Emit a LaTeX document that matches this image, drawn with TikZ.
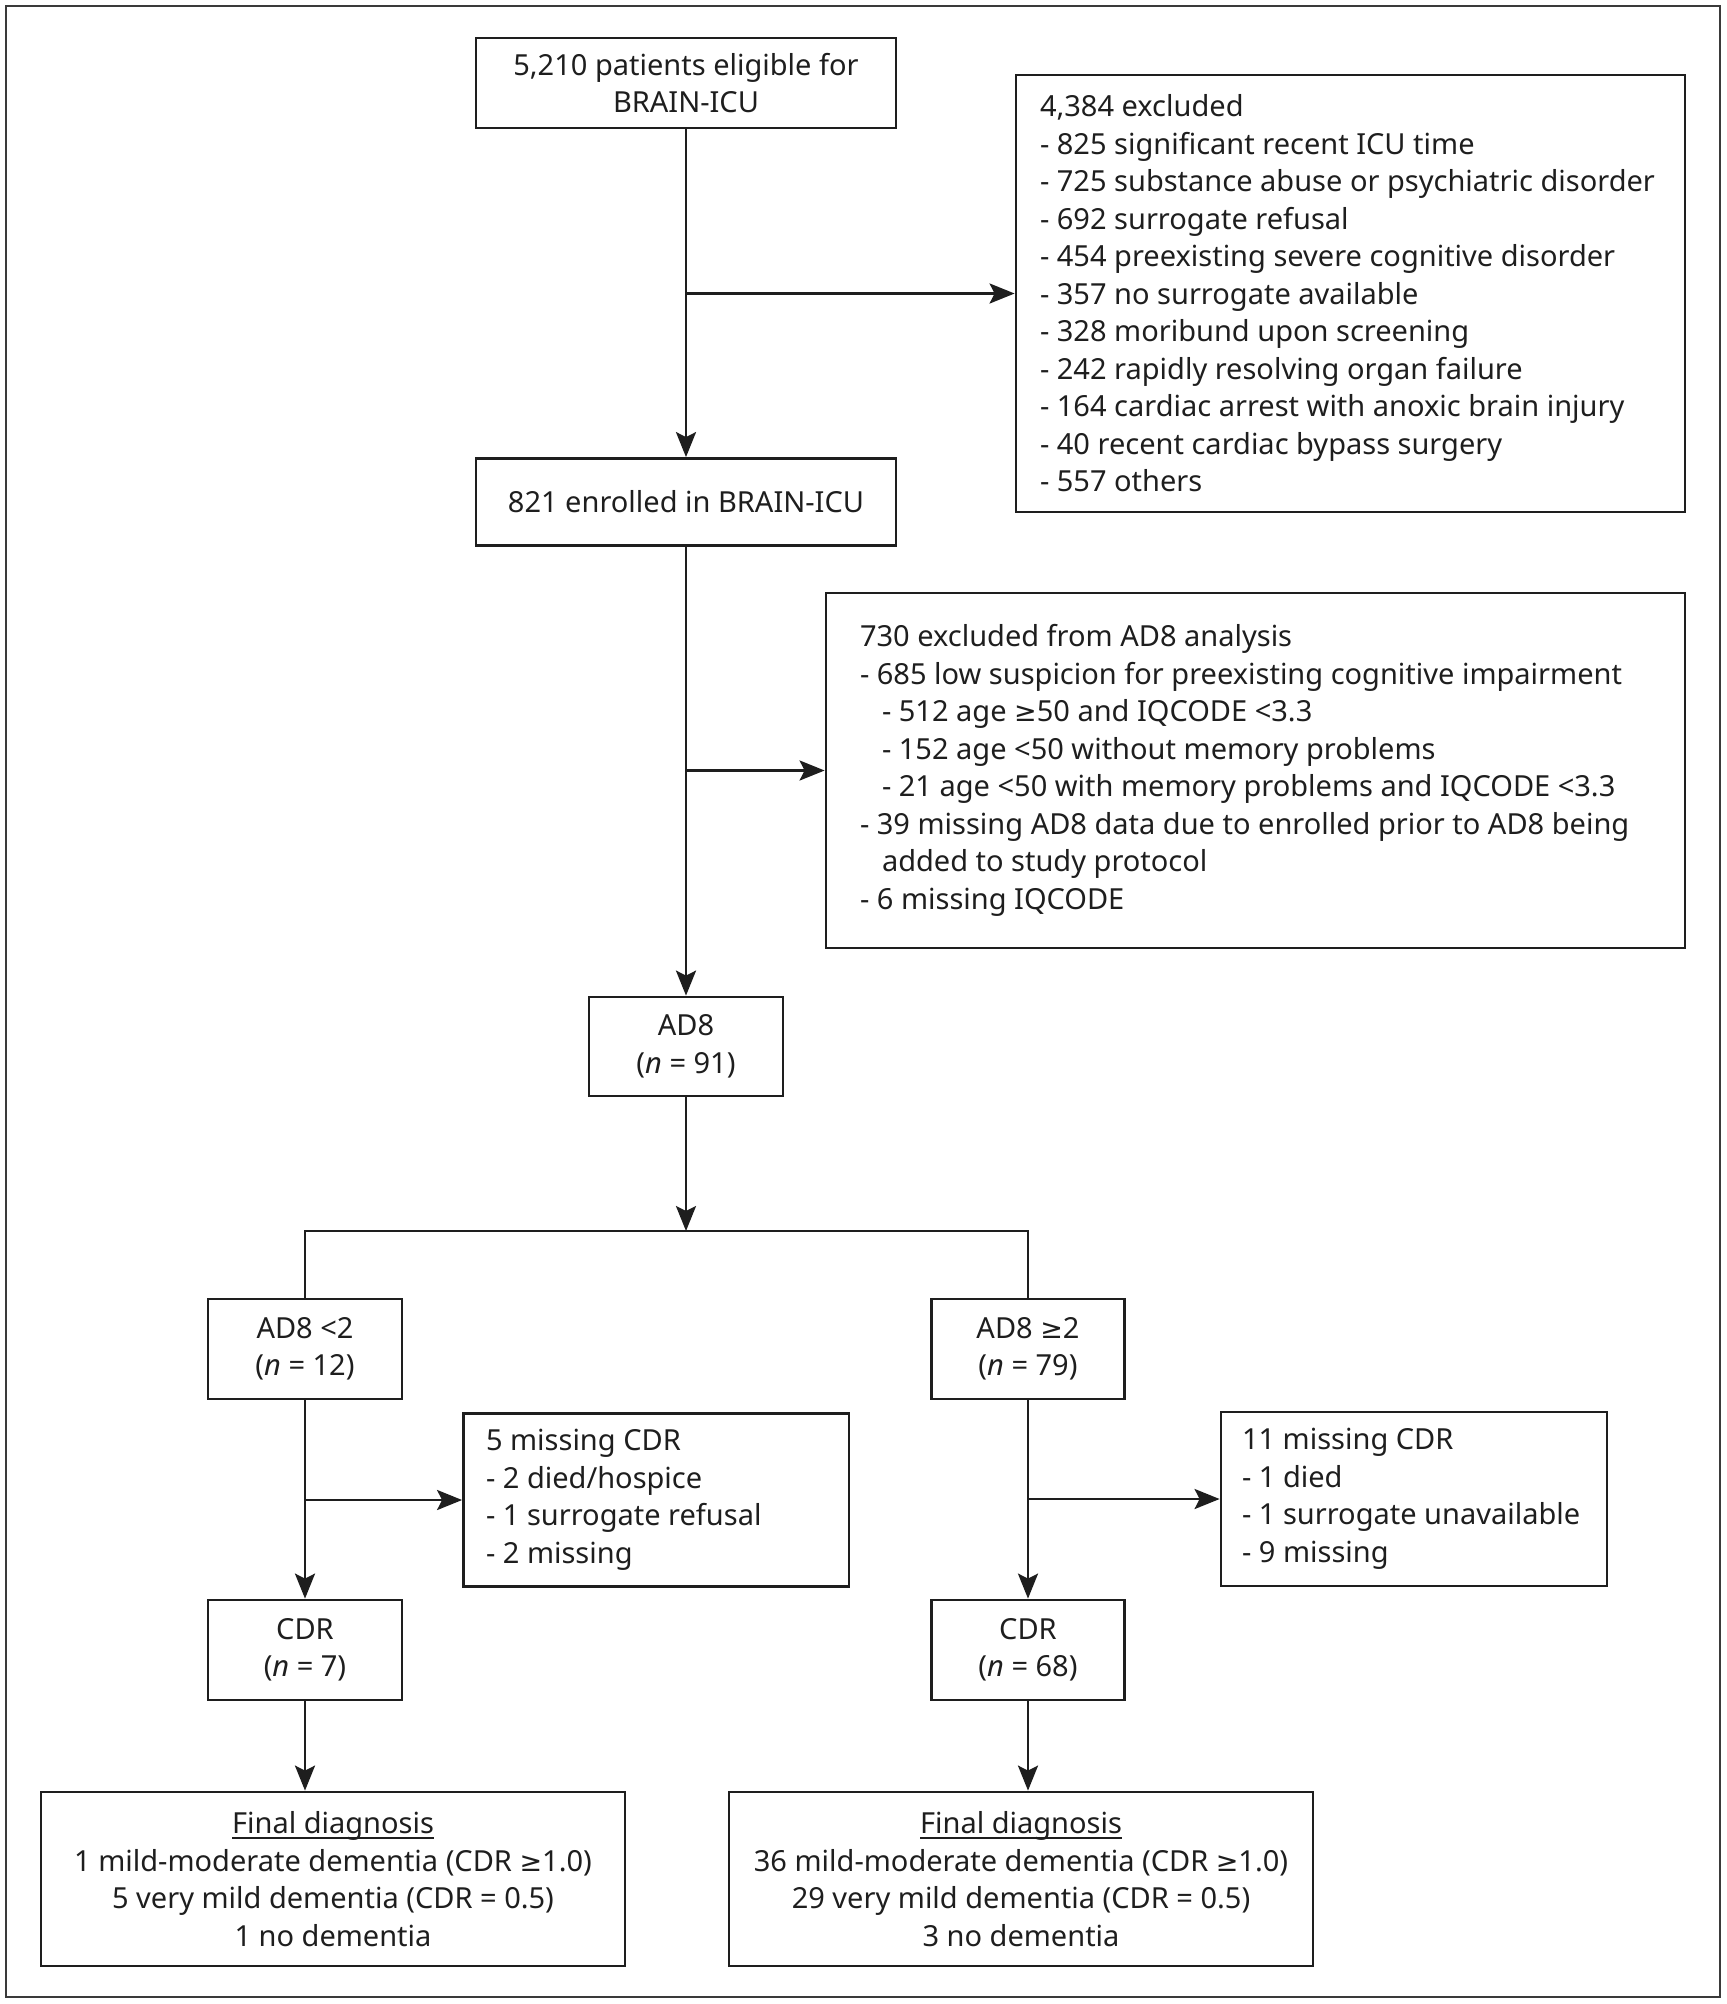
\documentclass[tikz,border=0pt]{standalone}
\usepackage{fontspec}
\setmainfont{Noto Sans}
\newfontfamily\symf{DejaVu Sans}
\usetikzlibrary{arrows.meta}
\definecolor{ink}{HTML}{1E1E1E}
\definecolor{framec}{HTML}{3A3A3A}
\newcommand\myul[1]{\setbox0\hbox{#1}\rlap{\rule[-2.6pt]{\wd0}{0.8pt}}\box0}
\newcommand\ind{\hspace*{11pt}}
\newcommand\gesym{{\symf\fontsize{13.5pt}{18.75pt}\selectfont ≥}}
\begin{document}
\begin{tikzpicture}[x=0.5pt,y=-0.5pt,
  every node/.style={text=ink, font=\fontsize{14.5pt}{18.75pt}\selectfont},
  box/.style={draw=ink, line width=1.4pt, inner sep=0pt, align=center},
  txt/.style={inner sep=0pt, anchor=west, align=left},
  conn/.style={draw=ink, line width=1.4pt},
  arr/.style={conn, -{Stealth[length=12.5pt,width=10pt,inset=2.5pt]}},
  frame/.style={draw=framec, line width=0.8pt}]
\useasboundingbox (0,0) rectangle (1726,2004);
\draw[frame] (6,6) rectangle (1720,1997);

% boxes
\node[box, minimum width=210pt, minimum height=45pt] (A) at (686,83)
  {5,210 patients eligible for\\BRAIN-ICU};
\node[box, minimum width=334.5pt, minimum height=218.5pt] (B) at (1350.5,293.5) {};
\node[txt] (Bt) at ([xshift=12.5pt]B.west)
  {4,384 excluded\\
   - 825 significant recent ICU time\\
   - 725 substance abuse or psychiatric disorder\\
   - 692 surrogate refusal\\
   - 454 preexisting severe cognitive disorder\\
   - 357 no surrogate available\\
   - 328 moribund upon screening\\
   - 242 rapidly resolving organ failure\\
   - 164 cardiac arrest with anoxic brain injury\\
   - 40 recent cardiac bypass surgery\\
   - 557 others};
\node[box, minimum width=210pt, minimum height=43.5pt] (C) at (686,502)
  {821 enrolled in BRAIN-ICU};
\node[box, minimum width=429.5pt, minimum height=177.5pt] (D) at (1255.5,770.5) {};
\node[txt] (Dt) at ([xshift=17.5pt]D.west)
  {730 excluded from AD8 analysis\\
   - 685 low suspicion for preexisting cognitive impairment\\
   \ind- 512 age \gesym50 and IQCODE <3.3\\
   \ind- 152 age <50 without memory problems\\
   \ind- 21 age <50 with memory problems and IQCODE <3.3\\
   - 39 missing AD8 data due to enrolled prior to AD8 being\\
   \ind added to study protocol\\
   - 6 missing IQCODE};
\node[box, minimum width=97pt, minimum height=49.5pt] (E) at (686,1046.5)
  {AD8\\(\textit{n} = 91)};
\node[box, minimum width=97pt, minimum height=50pt] (F) at (305,1349)
  {AD8 <2\\(\textit{n} = 12)};
\node[box, minimum width=96.5pt, minimum height=50pt] (G) at (1028,1349)
  {AD8 \gesym2\\(\textit{n} = 79)};
\node[box, minimum width=192.75pt, minimum height=86.25pt] (H) at (656.25,1500) {};
\node[txt] (Ht) at ([xshift=11.75pt]H.west)
  {5 missing CDR\\- 2 died/hospice\\- 1 surrogate refusal\\- 2 missing};
\node[box, minimum width=193pt, minimum height=87pt] (I) at (1414,1499) {};
\node[txt] (It) at ([xshift=11pt]I.west)
  {11 missing CDR\\- 1 died\\- 1 surrogate unavailable\\- 9 missing};
\node[box, minimum width=97pt, minimum height=50pt] (J) at (305,1650)
  {CDR\\(\textit{n} = 7)};
\node[box, minimum width=96.5pt, minimum height=50pt] (K) at (1028,1650)
  {CDR\\(\textit{n} = 68)};
\node[box, minimum width=292pt, minimum height=87pt] (L) at (333,1879)
  {\myul{Final diagnosis}\\1 mild-moderate dementia (CDR \gesym1.0)\\5 very mild dementia (CDR = 0.5)\\1 no dementia};
\node[box, minimum width=292pt, minimum height=87pt] (M) at (1021,1879)
  {\myul{Final diagnosis}\\36 mild-moderate dementia (CDR \gesym1.0)\\29 very mild dementia (CDR = 0.5)\\3 no dementia};

% connectors
\coordinate (split) at (686,1231);
\draw[arr] (A) -- (C);
\draw[arr] (A.south |- B.west) -- (B.west);
\draw[arr] (C) -- (E);
\draw[arr] (C.south |- D.west) -- (D.west);
\draw[arr] (E) -- (split);
\draw[conn] (F.north) -- (F.north |- split) -- (G.north |- split) -- (G.north);
\draw[arr] (F) -- (J);
\draw[arr] (F.south |- H.west) -- (H.west);
\draw[arr] (G) -- (K);
\draw[arr] (G.south |- I.west) -- (I.west);
\draw[arr] (J.south) -- (J.south |- L.north);
\draw[arr] (K.south) -- (K.south |- M.north);
\end{tikzpicture}
\end{document}
